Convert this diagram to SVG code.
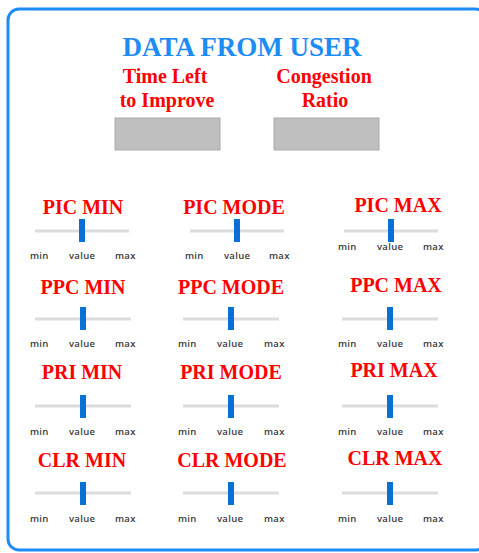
<svg xmlns="http://www.w3.org/2000/svg" width="479" height="553" viewBox="0 0 479 553">
<style>
.frame{fill:#fff;stroke:#1E8CF5;stroke-width:3}
.title{font-family:"Liberation Serif",serif;font-weight:bold;font-size:27px;fill:#1E8CF5;text-anchor:middle}
.lbl{font-family:"Liberation Serif",serif;font-weight:bold;font-size:20px;fill:#FF0000;text-anchor:middle}
.box{fill:#BFBFBF;stroke:#ABABAB;stroke-width:1}
.track{stroke:#DCDCDC;stroke-width:3}
.thumb{fill:#0A6FD6}
.tick{font-family:"Open Sans",sans-serif;font-size:9.5px;font-weight:600;fill:#3a3a3a;letter-spacing:0.3px}
</style>
<rect class="frame" x="8" y="9" width="478" height="541" rx="11"/>
<g id="header">
<text class="title" x="242" y="56">DATA FROM USER</text>
</g>
<g id="time-left">
<text class="lbl" x="165" y="83">Time Left</text>
<text class="lbl" x="167" y="107">to Improve</text>
<rect class="box" x="115" y="118" width="105" height="32"/>
</g>
<g id="congestion-ratio">
<text class="lbl" x="324" y="83">Congestion</text>
<text class="lbl" x="325" y="107">Ratio</text>
<rect class="box" x="274" y="118" width="105" height="32"/>
</g>

<g id="pic-min">
<text class="lbl" x="83" y="214">PIC MIN</text>
<line class="track" x1="35" y1="231" x2="129" y2="231"/>
<rect class="thumb" x="79" y="219" width="6" height="23"/>
<text class="tick" x="30" y="259">min</text><text class="tick" x="69" y="259">value</text><text class="tick" x="115" y="259">max</text>
</g>
<g id="pic-mode">
<text class="lbl" x="234" y="214">PIC MODE</text>
<line class="track" x1="190" y1="231" x2="284" y2="231"/>
<rect class="thumb" x="234" y="219" width="6" height="23"/>
<text class="tick" x="185" y="259">min</text><text class="tick" x="224" y="259">value</text><text class="tick" x="269" y="259">max</text>
</g>
<g id="pic-max">
<text class="lbl" x="398" y="212">PIC MAX</text>
<line class="track" x1="344" y1="231" x2="438" y2="231"/>
<rect class="thumb" x="388" y="219" width="6" height="23"/>
<text class="tick" x="338" y="250">min</text><text class="tick" x="377" y="250">value</text><text class="tick" x="423" y="250">max</text>
</g>

<g id="ppc-min">
<text class="lbl" x="83" y="294">PPC MIN</text>
<line class="track" x1="35" y1="319" x2="131" y2="319"/>
<rect class="thumb" x="80" y="307" width="6" height="23"/>
<text class="tick" x="30" y="347">min</text><text class="tick" x="69" y="347">value</text><text class="tick" x="115" y="347">max</text>
</g>
<g id="ppc-mode">
<text class="lbl" x="231" y="294">PPC MODE</text>
<line class="track" x1="183" y1="319" x2="279" y2="319"/>
<rect class="thumb" x="228" y="307" width="6" height="23"/>
<text class="tick" x="178" y="347">min</text><text class="tick" x="217" y="347">value</text><text class="tick" x="264" y="347">max</text>
</g>
<g id="ppc-max">
<text class="lbl" x="396" y="292">PPC MAX</text>
<line class="track" x1="342" y1="319" x2="438" y2="319"/>
<rect class="thumb" x="387" y="307" width="6" height="23"/>
<text class="tick" x="338" y="347">min</text><text class="tick" x="377" y="347">value</text><text class="tick" x="423" y="347">max</text>
</g>

<g id="pri-min">
<text class="lbl" x="82" y="379">PRI MIN</text>
<line class="track" x1="35" y1="406" x2="131" y2="406"/>
<rect class="thumb" x="80" y="395" width="6" height="23"/>
<text class="tick" x="30" y="435">min</text><text class="tick" x="69" y="435">value</text><text class="tick" x="115" y="435">max</text>
</g>
<g id="pri-mode">
<text class="lbl" x="231" y="379">PRI MODE</text>
<line class="track" x1="183" y1="406" x2="279" y2="406"/>
<rect class="thumb" x="228" y="395" width="6" height="23"/>
<text class="tick" x="178" y="435">min</text><text class="tick" x="217" y="435">value</text><text class="tick" x="264" y="435">max</text>
</g>
<g id="pri-max">
<text class="lbl" x="394" y="377">PRI MAX</text>
<line class="track" x1="342" y1="406" x2="438" y2="406"/>
<rect class="thumb" x="387" y="395" width="6" height="23"/>
<text class="tick" x="338" y="435">min</text><text class="tick" x="377" y="435">value</text><text class="tick" x="423" y="435">max</text>
</g>

<g id="clr-min">
<text class="lbl" x="82" y="467">CLR MIN</text>
<line class="track" x1="35" y1="493" x2="131" y2="493"/>
<rect class="thumb" x="80" y="482" width="6" height="23"/>
<text class="tick" x="30" y="522">min</text><text class="tick" x="69" y="522">value</text><text class="tick" x="115" y="522">max</text>
</g>
<g id="clr-mode">
<text class="lbl" x="232" y="467">CLR MODE</text>
<line class="track" x1="183" y1="493" x2="279" y2="493"/>
<rect class="thumb" x="228" y="482" width="6" height="23"/>
<text class="tick" x="178" y="522">min</text><text class="tick" x="217" y="522">value</text><text class="tick" x="264" y="522">max</text>
</g>
<g id="clr-max">
<text class="lbl" x="395" y="465">CLR MAX</text>
<line class="track" x1="342" y1="493" x2="438" y2="493"/>
<rect class="thumb" x="387" y="482" width="6" height="23"/>
<text class="tick" x="338" y="522">min</text><text class="tick" x="377" y="522">value</text><text class="tick" x="423" y="522">max</text>
</g>
<g id="connectors"/>
</svg>
